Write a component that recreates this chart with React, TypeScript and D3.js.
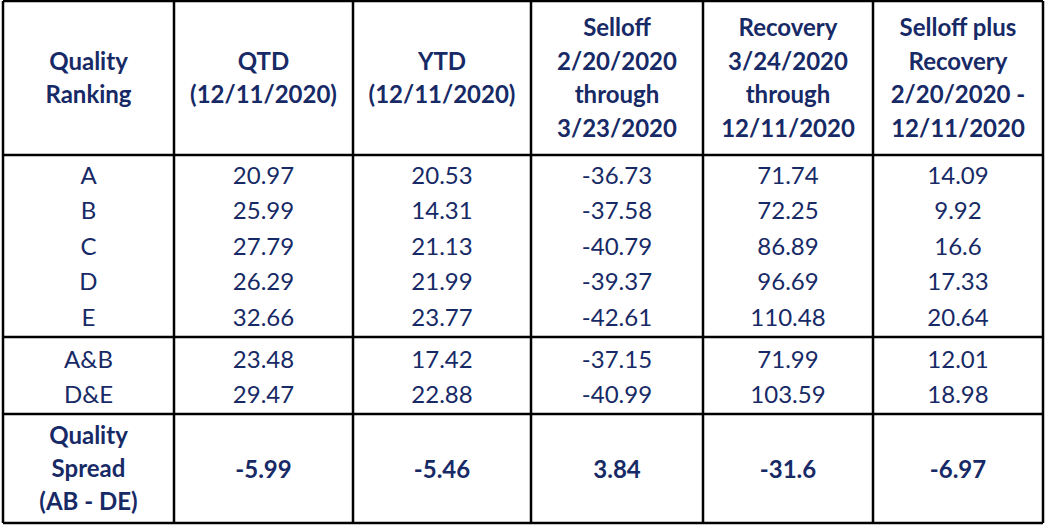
import React from "react";
import * as d3 from "d3";

const headers: string[][] = [
  ["Quality", "Ranking"],
  ["QTD", "(12/11/2020)"],
  ["YTD", "(12/11/2020)"],
  ["Selloff", "2/20/2020", "through", "3/23/2020"],
  ["Recovery", "3/24/2020", "through", "12/11/2020"],
  ["Selloff plus", "Recovery", "2/20/2020 -", "12/11/2020"],
];

const rankings = ["A", "B", "C", "D", "E"];
const rankQTD = ["20.97", "25.99", "27.79", "26.29", "32.66"];
const rankYTD = ["20.53", "14.31", "21.13", "21.99", "23.77"];
const rankSelloff = ["-36.73", "-37.58", "-40.79", "-39.37", "-42.61"];
const rankRecovery = ["71.74", "72.25", "86.89", "96.69", "110.48"];
const rankSellRec = ["14.09", "9.92", "16.6", "17.33", "20.64"];

const groups = ["A&B", "D&E"];
const groupQTD = ["23.48", "29.47"];
const groupYTD = ["17.42", "22.88"];
const groupSelloff = ["-37.15", "-40.99"];
const groupRecovery = ["71.99", "103.59"];
const groupSellRec = ["12.01", "18.98"];

const spreadLabel = ["Quality", "Spread", "(AB - DE)"];
const spreadValues = ["-5.99", "-5.46", "3.84", "-31.6", "-6.97"];

const W = 1048;
const H = 529;
const colEdges = [3, 174, 353, 531, 703, 873, 1043];
const rowEdges = [1, 155, 337, 414, 523];
const FS = 24;
const LH = 33.5;
const COLOR = "#172a66";
const FONT = "Lato, 'Open Sans', sans-serif";

export default function App() {
  const cx = (i: number) => (colEdges[i] + colEdges[i + 1]) / 2;
  const base = (cy: number) => cy + FS * 0.36;

  const rankCols = [rankings, rankQTD, rankYTD, rankSelloff, rankRecovery, rankSellRec];
  const groupCols = [groups, groupQTD, groupYTD, groupSelloff, groupRecovery, groupSellRec];

  const rankY = d3
    .scalePoint<string>()
    .domain(rankings)
    .range([175, 317]);
  const groupY = d3
    .scalePoint<string>()
    .domain(groups)
    .range([359.5, 394.5]);

  const texts: React.ReactNode[] = [];
  const headCy = (rowEdges[0] + rowEdges[1]) / 2;
  headers.forEach((lines, ci) => {
    lines.forEach((ln, li) => {
      const cy = headCy + (li - (lines.length - 1) / 2) * LH;
      texts.push(
        <text key={`h${ci}-${li}`} x={cx(ci)} y={base(cy)} fontWeight="bold">
          {ln}
        </text>
      );
    });
  });
  rankCols.forEach((col, ci) => {
    col.forEach((v, ri) => {
      texts.push(
        <text key={`r${ci}-${ri}`} x={cx(ci)} y={base(rankY(rankings[ri])!)}>
          {v}
        </text>
      );
    });
  });
  groupCols.forEach((col, ci) => {
    col.forEach((v, ri) => {
      texts.push(
        <text key={`g${ci}-${ri}`} x={cx(ci)} y={base(groupY(groups[ri])!)}>
          {v}
        </text>
      );
    });
  });
  const spCy = (rowEdges[3] + rowEdges[4]) / 2;
  spreadLabel.forEach((ln, li) => {
    const cy = spCy + (li - 1) * 33;
    texts.push(
      <text key={`sl${li}`} x={cx(0)} y={base(cy)} fontWeight="bold">
        {ln}
      </text>
    );
  });
  spreadValues.forEach((v, i) => {
    texts.push(
      <text key={`sv${i}`} x={cx(i + 1)} y={base(spCy + 1)} fontWeight="bold">
        {v}
      </text>
    );
  });

  const x0 = colEdges[0];
  const x1 = colEdges[colEdges.length - 1];
  const y0 = rowEdges[0];
  const y1 = rowEdges[rowEdges.length - 1];

  return (
    <svg
      width={W}
      height={H}
      style={{ position: "absolute", left: 0, top: 0, background: "#fff" }}
    >
      <rect x={0} y={0} width={W} height={H} fill="#fff" />
      <g fontFamily={FONT} fontSize={FS} fill={COLOR} textAnchor="middle">
        {texts}
      </g>
      <g stroke="#000" strokeWidth={2.5}>
        {colEdges.map((x, i) => (
          <line key={`vc${i}`} x1={x} x2={x} y1={y0} y2={y1} />
        ))}
        {rowEdges.map((y, i) => (
          <line key={`hr${i}`} x1={x0} x2={x1} y1={y} y2={y} />
        ))}
      </g>
    </svg>
  );
}
